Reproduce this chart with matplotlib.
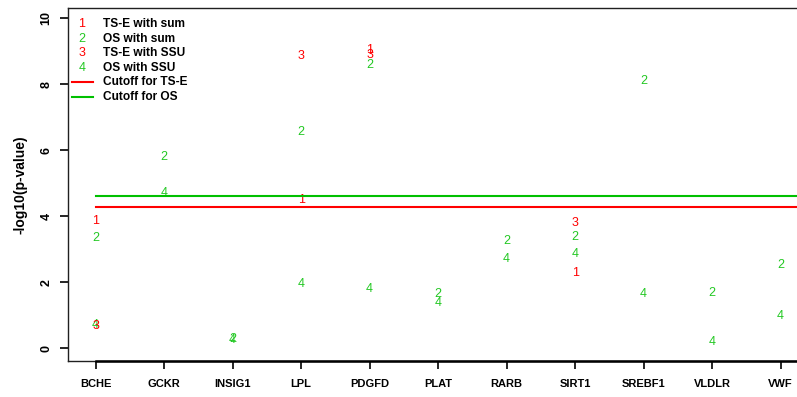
import numpy as np
import matplotlib
matplotlib.use("Agg")
import matplotlib.pyplot as plt

plt.rcParams['font.family'] = ['Liberation Sans', 'DejaVu Sans']

genes = ["BCHE", "GCKR", "INSIG1", "LPL", "PDGFD", "PLAT", "RARB", "SIRT1", "SREBF1", "VLDLR", "VWF"]
nan = np.nan
ts_e_sum = [3.87, nan, nan, 4.49, 9.05, nan, nan, 2.29, nan, nan, nan]
os_sum   = [3.35, 5.80, 0.28, 6.55, 8.58, 1.64, 3.26, 3.38, 8.10, 1.67, 2.52]
ts_e_ssu = [0.68, nan, nan, 8.87, 8.90, nan, nan, 3.79, nan, nan, nan]
os_ssu   = [0.72, 4.72, 0.24, 1.94, 1.79, 1.36, 2.71, 2.86, 1.64, 0.20, 0.98]
cutoff_tse = 4.27
cutoff_os = 4.62
yticks = [0, 2, 4, 6, 8, 10]

series_labels = ["TS-E with sum", "OS with sum", "TS-E with SSU", "OS with SSU"]
line_labels = ["Cutoff for TS-E", "Cutoff for OS"]

RED = "#FF0000"
GREEN_TXT = "#22C822"
GREEN_LINE = "#00C000"

W, H = 797, 397
fig = plt.figure(figsize=(W / 100, H / 100), dpi=100)
ax_l, ax_r, ax_t, ax_b = 68, 808, 8, 361
ax = fig.add_axes([ax_l / W, 1 - ax_b / H, (ax_r - ax_l) / W, (ax_b - ax_t) / H])

x = np.arange(1, len(genes) + 1)
ax.set_xlim(0.596, 11.40)
ax.set_ylim(-0.385, 10.31)

series = [(ts_e_sum, "1", RED), (os_sum, "2", GREEN_TXT), (ts_e_ssu, "3", RED), (os_ssu, "4", GREEN_TXT)]
draw_order = [3, 1, 2, 0]
for k in draw_order:
    vals, sym, col = series[k]
    for xi, v in zip(x, vals):
        if not np.isnan(v):
            ax.text(xi, v, sym, color=col, ha="center", va="center", fontsize=9, zorder=2)

xl = [1, 12]
ax.plot(xl, [cutoff_tse, cutoff_tse], color=RED, lw=1.5, zorder=3)
ax.plot(xl, [cutoff_os, cutoff_os], color=GREEN_LINE, lw=1.5, zorder=3)

# axes styling
for s in ["top", "left", "bottom"]:
    ax.spines[s].set_linewidth(1.0)
    ax.spines[s].set_color("#202020")
ax.spines["right"].set_visible(False)
ax.plot([1, 12], [-0.385, -0.385], color="black", lw=1.8, clip_on=False, zorder=4)

ax.set_xticks(x)
ax.set_xticklabels(genes, fontsize=8, fontweight="bold")
ax.set_yticks(yticks)
ax.set_yticklabels([str(t) for t in yticks], fontsize=9, fontweight="bold", rotation=90, va="center")
ax.tick_params(axis="both", direction="out", length=6, width=1.2, color="black")
ax.tick_params(axis="x", pad=7)
ax.tick_params(axis="y", pad=5)

ax.set_ylabel("-log10(p-value)", fontsize=10, fontweight="bold")
ax.yaxis.set_label_coords((21 - ax_l) / (ax_r - ax_l), 0.5)
ax.yaxis.label.set_va("center")

# manual legend (R style, no frame)
def ax_coords(px, py):
    return (px - ax_l) / (ax_r - ax_l), (ax_b - py) / (ax_b - ax_t)

rows_y = [24, 38.7, 53.3, 68, 82, 96.5]
for (vals, sym, col), lab, ry in zip(series, series_labels, rows_y[:4]):
    sx, sy = ax_coords(82, ry)
    ax.text(sx, sy, sym, color=col, ha="center", va="center", fontsize=9, transform=ax.transAxes)
    tx, ty = ax_coords(103, ry)
    ax.text(tx, ty, lab, ha="left", va="center", fontsize=8.6, fontweight="bold", transform=ax.transAxes)
for lab, col, ry in zip(line_labels, [RED, GREEN_LINE], rows_y[4:]):
    x0, y0 = ax_coords(72, ry)
    x1, _ = ax_coords(93, ry)
    ax.plot([x0, x1], [y0, y0], color=col, lw=1.5, transform=ax.transAxes)
    tx, ty = ax_coords(103, ry)
    ax.text(tx, ty, lab, ha="left", va="center", fontsize=8.6, fontweight="bold", transform=ax.transAxes)

fig.savefig("out.png", dpi=100)
